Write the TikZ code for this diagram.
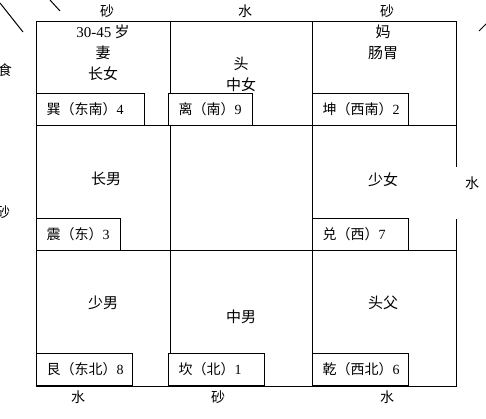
\documentclass[tikz,border=0pt]{standalone}
\usepackage{fontspec}
\setmainfont{Noto Sans CJK SC}
\newfontfamily\latinfont{Liberation Serif}
\newcommand{\lat}[1]{{\latinfont #1}}
\tikzset{
  gua/.style={draw, fill=white, anchor=south west, minimum height=32pt,
    inner xsep=10pt, inner ysep=0pt, align=left, font=\fontsize{14}{17}\selectfont},
  role/.style={align=center, font=\fontsize{15}{21}\selectfont},
  side/.style={font=\fontsize{14}{17}\selectfont},
}

\begin{document}
\begin{tikzpicture}[x=1pt, y=-1pt, line width=1pt]
\useasboundingbox (0,0) rectangle (486,419);
% Outer frame, open on the right
\draw (456,167) -- (456,22) -- (36,22) -- (36,386) -- (456,386) -- (456,219);
% Inner grid
\draw (170,22) -- (170,386);
\draw (312,22) -- (312,386);
\draw (36,126) -- (456,126);
\draw (36,250) -- (456,250);
% Corner strokes
\draw (0,3) -- (23,32);
\draw (50,0) -- (60,11);
\draw (479,31) -- (488,22);

% Persons in the palaces
\node[role] (xunr) at (103,53) {\lat{30-45} 岁\\妻\\长女};
\node[role] (lir) at (241,74) {头\\中女};
\node[role] (kunr) at (383,42.5) {妈\\肠胃};
\node[role] (zhenr) at (106,179) {长男};
\node[role] (duir) at (383,180) {少女};
\node[role] (genr) at (103,303) {少男};
\node[role] (kanr) at (241,317) {中男};
\node[role] (qianr) at (383,303) {头父};

% Palace labels
\node[gua, text width=88pt] (xun) at (36,126) {巽（东南）\lat{4}};
\node[gua, text width=64pt] (li) at (168,126) {离（南）\lat{9}};
\node[gua, text width=76pt] (kun) at (312,126) {坤（西南）\lat{2}};
\node[gua, text width=64pt] (zhen) at (36,251) {震（东）\lat{3}};
\node[gua, text width=76pt] (dui) at (312,251) {兑（西）\lat{7}};
\node[gua, text width=76pt] (gen) at (36,386) {艮（东北）\lat{8}};
\node[gua, text width=76pt] (kan) at (168,386) {坎（北）\lat{1}};
\node[gua, text width=76pt] (qian) at (312,386) {乾（西北）\lat{6}};

% Sand and water around
\node[side] (top1) at (107,11) {砂};
\node[side] (top2) at (245,11) {水};
\node[side] (top3) at (387,11) {砂};
\node[side] (left1) at (5,70) {食};
\node[side] (left2) at (3,212) {砂};
\node[side] (right1) at (472,183) {水};
\node[side] (bot1) at (78,397) {水};
\node[side] (bot2) at (218,397) {砂};
\node[side] (bot3) at (387,397) {水};
\end{tikzpicture}
\end{document}
